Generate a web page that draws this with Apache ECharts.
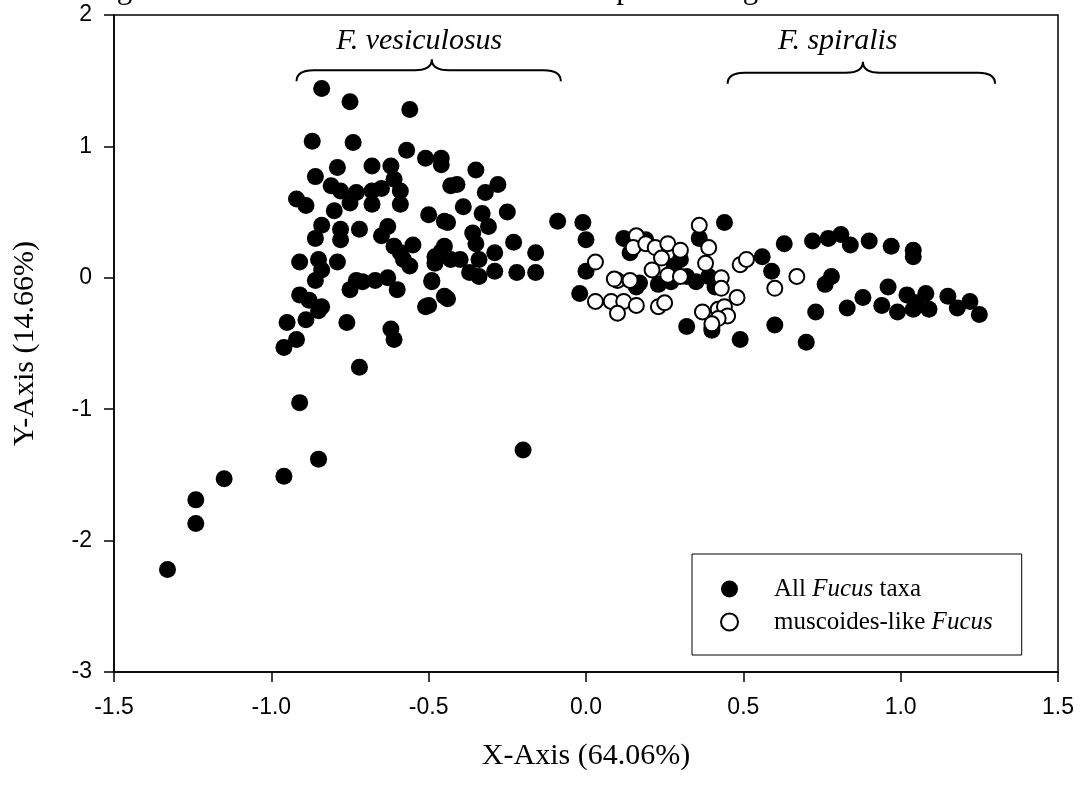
<!DOCTYPE html>
<html>
<head>
<meta charset="utf-8">
<script src="https://cdn.jsdelivr.net/npm/echarts@6/dist/echarts.min.js"></script>
<style>
  html, body { margin: 0; padding: 0; background: #fff; }
  #chart { width: 1086px; height: 790px; }
</style>
</head>
<body>
<div id="chart"></div>
<script>
// PCA scores: axis 1 (x) vs axis 2 (y)
const allFucus = [
  [-1.33,-2.22],[-1.24,-1.87],[-1.24,-1.69],[-1.15,-1.53],[-0.96,-1.51],[-0.85,-1.38],[-0.91,-0.95],
  [-0.72,-0.68],[-0.96,-0.53],[-0.92,-0.47],[-0.95,-0.34],[-0.89,-0.32],[-0.85,-0.25],[-0.76,-0.34],
  [-0.62,-0.39],[-0.61,-0.47],[-0.20,-1.31],
  [-0.84,1.44],[-0.75,1.34],[-0.56,1.28],[-0.87,1.04],[-0.74,1.03],[-0.57,0.97],[-0.51,0.91],
  [-0.46,0.91],[-0.46,0.86],[-0.79,0.84],[-0.68,0.85],[-0.62,0.85],[-0.86,0.77],[-0.81,0.70],
  [-0.61,0.75],[-0.78,0.66],[-0.59,0.66],[-0.73,0.65],[-0.68,0.66],[-0.65,0.68],[-0.92,0.60],
  [-0.89,0.55],[-0.75,0.57],[-0.68,0.56],[-0.59,0.56],[-0.80,0.51],[-0.50,0.48],[-0.45,0.43],
  [-0.43,0.70],[-0.84,0.40],[-0.78,0.37],[-0.72,0.37],[-0.86,0.30],[-0.65,0.32],[-0.78,0.29],
  [-0.63,0.39],[-0.61,0.24],[-0.55,0.25],[-0.58,0.14],[-0.48,0.16],[-0.45,0.24],[-0.91,0.12],
  [-0.85,0.14],[-0.79,0.12],[-0.86,-0.02],[-0.84,0.06],[-0.75,-0.09],[-0.71,-0.03],[-0.67,-0.02],
  [-0.63,0.00],[-0.60,-0.09],[-0.56,0.09],[-0.49,-0.02],[-0.91,-0.13],[-0.88,-0.17],[-0.84,-0.22],
  [-0.51,-0.22],[-0.45,-0.14],
  [-0.35,0.82],[-0.41,0.71],[-0.28,0.71],[-0.32,0.65],[-0.39,0.54],[-0.44,0.42],[-0.33,0.49],
  [-0.31,0.39],[-0.25,0.50],[-0.36,0.34],[-0.35,0.26],[-0.23,0.27],[-0.16,0.19],[-0.09,0.43],
  [-0.01,0.42],[0.00,0.29],[-0.46,0.20],[-0.43,0.14],[-0.29,0.19],[-0.34,0.14],[-0.59,0.19],
  [-0.48,0.11],[-0.40,0.14],[-0.37,0.04],[-0.34,0.01],[-0.29,0.05],[-0.22,0.04],[-0.16,0.04],
  [-0.73,-0.02],[-0.49,-0.03],[-0.44,-0.16],[-0.50,-0.21],[0.00,0.05],[-0.02,-0.12],
  [0.12,0.30],[0.14,0.19],[0.19,0.29],[0.44,0.42],[0.63,0.26],[0.56,0.16],[0.59,0.05],
  [0.36,0.30],[0.17,-0.04],[0.23,-0.05],[0.28,0.09],[0.30,0.14],[0.32,0.01],[0.35,-0.03],
  [0.39,0.01],[0.41,-0.07],[0.27,-0.03],[0.32,-0.37],[0.40,-0.38],[0.49,-0.47],[0.60,-0.36],
  [0.40,-0.40],[0.16,-0.07],
  [0.72,0.28],[0.77,0.30],[0.81,0.33],[0.84,0.25],[0.90,0.28],[0.97,0.24],[1.04,0.21],
  [1.04,0.16],[0.78,0.01],[0.76,-0.05],[0.88,-0.15],[0.83,-0.23],[0.96,-0.07],[0.94,-0.21],
  [0.99,-0.26],[1.02,-0.13],[1.04,-0.24],[1.08,-0.12],[1.09,-0.24],[1.05,-0.19],[1.15,-0.14],
  [1.18,-0.23],[1.22,-0.18],[1.25,-0.28],[0.73,-0.26],[0.70,-0.49]
];

const muscoidesLike = [
  [0.03,0.12],[0.03,-0.18],[0.16,0.32],[0.15,0.23],[0.19,0.26],[0.22,0.23],[0.26,0.26],
  [0.30,0.21],[0.24,0.15],[0.21,0.06],[0.26,0.02],[0.30,0.01],[0.10,-0.02],[0.14,-0.02],
  [0.09,-0.01],[0.08,-0.18],[0.12,-0.18],[0.10,-0.27],[0.16,-0.21],[0.23,-0.22],[0.25,-0.19],
  [0.36,0.40],[0.39,0.23],[0.38,0.11],[0.43,0.00],[0.43,-0.08],[0.49,0.10],[0.51,0.14],
  [0.48,-0.15],[0.37,-0.26],[0.42,-0.24],[0.44,-0.22],[0.45,-0.29],[0.42,-0.31],[0.40,-0.35],
  [0.60,-0.08],[0.67,0.01]
];

// Bracketed taxon groups along the top of the plot
const groupNames = ['F. vesiculosus', 'F. spiralis'];
const groupStart = [-0.92, 0.45];
const groupEnd = [-0.08, 1.30];
const groupMid = [-0.49, 0.88];
const groupLevel = [1.58, 1.56];
const groupLabelX = [-0.53, 0.80];
const groupLabelY = [1.80, 1.80];

const xTicks = { min: -1.5, max: 1.5, step: 0.5 };
const yTicks = { min: -3, max: 2, step: 1 };

const seriesNames = ['All Fucus taxa', 'muscoides-like Fucus'];

const serif = '"Liberation Serif", "Times New Roman", serif';
const sans = '"Liberation Sans", Arial, sans-serif';

const chart = echarts.init(document.getElementById('chart'), null, { renderer: 'canvas' });

const groupData = groupNames.map((n, i) => ({
  name: n,
  value: [groupStart[i], groupEnd[i], groupMid[i], groupLevel[i], groupLabelX[i], groupLabelY[i]]
}));

function renderBrace(params, api) {
  const a = api.coord([api.value(0), api.value(3)]);
  const b = api.coord([api.value(1), api.value(3)]);
  const m = api.coord([api.value(2), api.value(3)]);
  const t = api.coord([api.value(4), api.value(5)]);
  const y = a[1], d = 11, r = 17;
  const path = [
    'M', a[0], y + d,
    'Q', a[0], y, a[0] + r, y,
    'L', m[0] - r, y,
    'Q', m[0], y, m[0], y - d,
    'Q', m[0], y, m[0] + r, y,
    'L', b[0] - r, y,
    'Q', b[0], y, b[0], y + d
  ].join(' ');
  return {
    type: 'group',
    children: [
      { type: 'path', shape: { pathData: path }, style: { fill: null, stroke: '#000', lineWidth: 2 } },
      { type: 'text', style: {
          text: groupNames[params.dataIndex], x: t[0], y: t[1],
          fill: '#000', font: 'italic 30px ' + serif, align: 'center', verticalAlign: 'middle'
      } }
    ]
  };
}

const legendRich = {
  gap: { width: 31 },
  t: { fontFamily: serif, fontSize: 25, color: '#000' },
  i: { fontFamily: serif, fontSize: 25, fontStyle: 'italic', color: '#000' }
};

const option = {
  animation: false,
  backgroundColor: '#fff',
  graphic: [{
    type: 'text', x: 91, y: -10,
    style: {
      text: 'Figure 5. Ordination of all Fucus taxa sampled throughout the Gulf of Maine',
      font: '31px ' + serif, fill: '#000', verticalAlign: 'middle'
    }
  }],
  grid: {
    left: 114, right: 28, top: 15, bottom: 118,
    show: true, borderColor: '#000', borderWidth: 1.5, backgroundColor: 'transparent'
  },
  legend: {
    data: seriesNames,
    orient: 'vertical',
    left: 692, top: 554,
    padding: [22, 29, 20, 28],
    itemWidth: 17, itemHeight: 17, itemGap: 7,
    backgroundColor: '#fff', borderColor: '#000', borderWidth: 1, borderRadius: 0,
    textStyle: { lineHeight: 26, rich: legendRich },
    formatter: function (name) {
      return name === seriesNames[0]
        ? '{gap|}{t|All }{i|Fucus}{t| taxa}'
        : '{gap|}{t|muscoides-like }{i|Fucus}';
    }
  },
  xAxis: {
    type: 'value', min: xTicks.min, max: xTicks.max, interval: xTicks.step,
    name: 'X-Axis (64.06%)', nameLocation: 'middle', nameGap: 69,
    nameTextStyle: { fontFamily: serif, fontSize: 30, color: '#000' },
    axisLine: { show: true, onZero: false, lineStyle: { color: '#000', width: 1.5 } },
    axisTick: { show: true, inside: false, length: 10, lineStyle: { color: '#000', width: 1.5 } },
    axisLabel: { show: true, margin: 24, fontFamily: sans, fontSize: 23, color: '#000',
      showMinLabel: true, showMaxLabel: true, formatter: v => v.toFixed(1) },
    splitLine: { show: false }
  },
  yAxis: {
    type: 'value', min: yTicks.min, max: yTicks.max, interval: yTicks.step,
    name: 'Y-Axis (14.66%)', nameLocation: 'middle', nameGap: 74,
    nameTextStyle: { fontFamily: serif, fontSize: 30, color: '#000' },
    axisLine: { show: true, onZero: false, lineStyle: { color: '#000', width: 1.5 } },
    axisTick: { show: true, inside: false, length: 10, lineStyle: { color: '#000', width: 1.5 } },
    axisLabel: { show: true, margin: 22, fontFamily: sans, fontSize: 23, color: '#000',
      showMinLabel: true, showMaxLabel: true, formatter: v => String(v) },
    splitLine: { show: false }
  },
  series: [
    {
      name: seriesNames[0], type: 'scatter', data: allFucus,
      symbol: 'circle', symbolSize: 17,
      itemStyle: { color: '#000', opacity: 1 },
      emphasis: { disabled: true }, z: 2
    },
    {
      name: seriesNames[1], type: 'scatter', data: muscoidesLike,
      symbol: 'circle', symbolSize: 15,
      itemStyle: { color: '#fff', borderColor: '#000', borderWidth: 2, opacity: 1 },
      emphasis: { disabled: true }, z: 3
    },
    {
      name: 'groups', type: 'custom', data: groupData,
      encode: { x: [0, 1, 2, 4], y: [3, 5] },
      renderItem: renderBrace, clip: false, silent: true, z: 4
    }
  ]
};

chart.setOption(option);
</script>
</body>
</html>
